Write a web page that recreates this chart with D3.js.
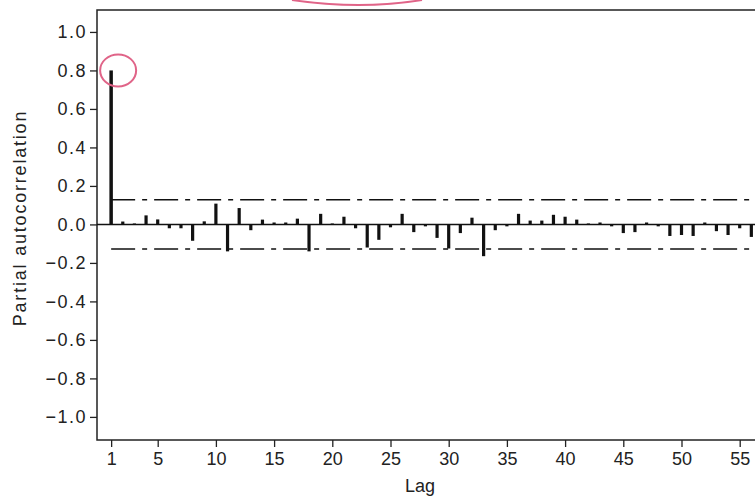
<html>
<head>
<meta charset="UTF-8" />
<style>
body { margin: 0; background: #fff; }
text { font-family: "Liberation Sans", Arial, sans-serif; fill: #222; }
</style>
</head>
<body>
<script src="https://d3js.org/d3.v7.min.js" charset="utf-8"></script>
<script>
var width = 755;
var height = 503;

// lags 1..56 and their partial autocorrelations
var lags = d3.range(1, 57);
var pacf = [0.80, 0.015, 0.005, 0.047, 0.026, -0.02, -0.02, -0.085, 0.016, 0.108,
            -0.14, 0.085, -0.03, 0.025, 0.01, 0.01, 0.03, -0.14, 0.055, 0.005,
            0.04, -0.02, -0.12, -0.08, -0.015, 0.055, -0.04, -0.01, -0.07, -0.125,
            -0.045, 0.035, -0.165, -0.03, -0.01, 0.055, 0.02, 0.02, 0.05, 0.04,
            0.025, 0.005, 0.01, -0.01, -0.045, -0.04, 0.01, -0.01, -0.06, -0.055,
            -0.06, 0.01, -0.035, -0.055, -0.02, -0.065];
var bound = 0.128;   // approx. 95% band

var yTicks = [1.0, 0.8, 0.6, 0.4, 0.2, 0.0, -0.2, -0.4, -0.6, -0.8, -1.0];
var xTicks = [1, 5, 10, 15, 20, 25, 30, 35, 40, 45, 50, 55];

var svg = d3.select("body")
			.append("svg")
			.attr("width", width)
			.attr("height", height);

var plotLeft = 97, plotTop = 10, plotBottom = 440;

var x = d3.scaleLinear().domain([0, 60]).range([99.5, 99.5 + 60 * 11.64]);
var y = d3.scaleLinear().domain([-1.12, 1.114]).range([plotBottom, plotTop]);

// frame (runs off the right edge like the scan)
svg.append("rect")
   .attr("x", plotLeft)
   .attr("y", plotTop)
   .attr("width", x(60) - plotLeft)
   .attr("height", plotBottom - plotTop)
   .attr("fill", "none")
   .attr("stroke", "#222")
   .attr("stroke-width", 1.5);

// y axis
var yAxis = d3.axisLeft(y)
			  .tickValues(yTicks)
			  .tickFormat(d => d3.format(".1f")(d).replace("-", "\u2212"))
			  .tickSize(7)
			  .tickPadding(3);
var gy = svg.append("g")
			.attr("transform", "translate(" + plotLeft + ",0)")
			.call(yAxis);
gy.select(".domain").remove();
gy.selectAll("line").attr("stroke", "#222").attr("stroke-width", 1.3);
gy.selectAll("text")
  .style("font-size", "18px")
  .style("letter-spacing", "1.5px")
  .attr("fill", "#222");

// x axis
var xAxis = d3.axisBottom(x)
			  .tickValues(xTicks)
			  .tickSize(7)
			  .tickPadding(5);
var gx = svg.append("g")
			.attr("transform", "translate(0," + plotBottom + ")")
			.call(xAxis);
gx.select(".domain").remove();
gx.selectAll("line").attr("stroke", "#222").attr("stroke-width", 1.3);
gx.selectAll("text").style("font-size", "18px").attr("fill", "#222");

// zero line
svg.append("line")
   .attr("x1", plotLeft)
   .attr("x2", width)
   .attr("y1", y(0))
   .attr("y2", y(0))
   .attr("stroke", "#111")
   .attr("stroke-width", 1.5);

// confidence bands
svg.selectAll(".band")
   .data([bound, -bound])
   .enter()
   .append("line")
   .attr("class", "band")
   .attr("x1", x(1))
   .attr("x2", width)
   .attr("y1", d => y(d))
   .attr("y2", d => y(d))
   .attr("stroke", "#111")
   .attr("stroke-width", 1.5)
   .attr("stroke-dasharray", "24,7,5,7");

// bars
svg.append("g")
   .selectAll("line")
   .data(lags)
   .enter()
   .append("line")
   .attr("x1", d => x(d))
   .attr("x2", d => x(d))
   .attr("y1", y(0))
   .attr("y2", (d, i) => y(pacf[i]))
   .attr("stroke", "#111")
   .attr("stroke-width", (d, i) => i == 0 ? 3.5 : 3.2);

// axis titles
svg.append("text")
   .attr("x", 420)
   .attr("y", 492)
   .attr("text-anchor", "middle")
   .style("font-size", "18px")
   .text("Lag");

svg.append("text")
   .attr("transform", "translate(26,218) rotate(-90)")
   .attr("text-anchor", "middle")
   .style("font-size", "18px")
   .style("letter-spacing", "1.8px")
   .text("Partial autocorrelation");

// pink pen marks on the scan
svg.append("ellipse")
   .attr("cx", x(1) + 7)
   .attr("cy", y(0.8))
   .attr("rx", 18)
   .attr("ry", 16)
   .attr("fill", "none")
   .attr("stroke", "#e06488")
   .attr("stroke-width", 2);

svg.append("path")
   .attr("d", "M292,0 Q360,10 422,0")
   .attr("fill", "none")
   .attr("stroke", "#e06488")
   .attr("stroke-width", 2);
</script>
</body>
</html>
